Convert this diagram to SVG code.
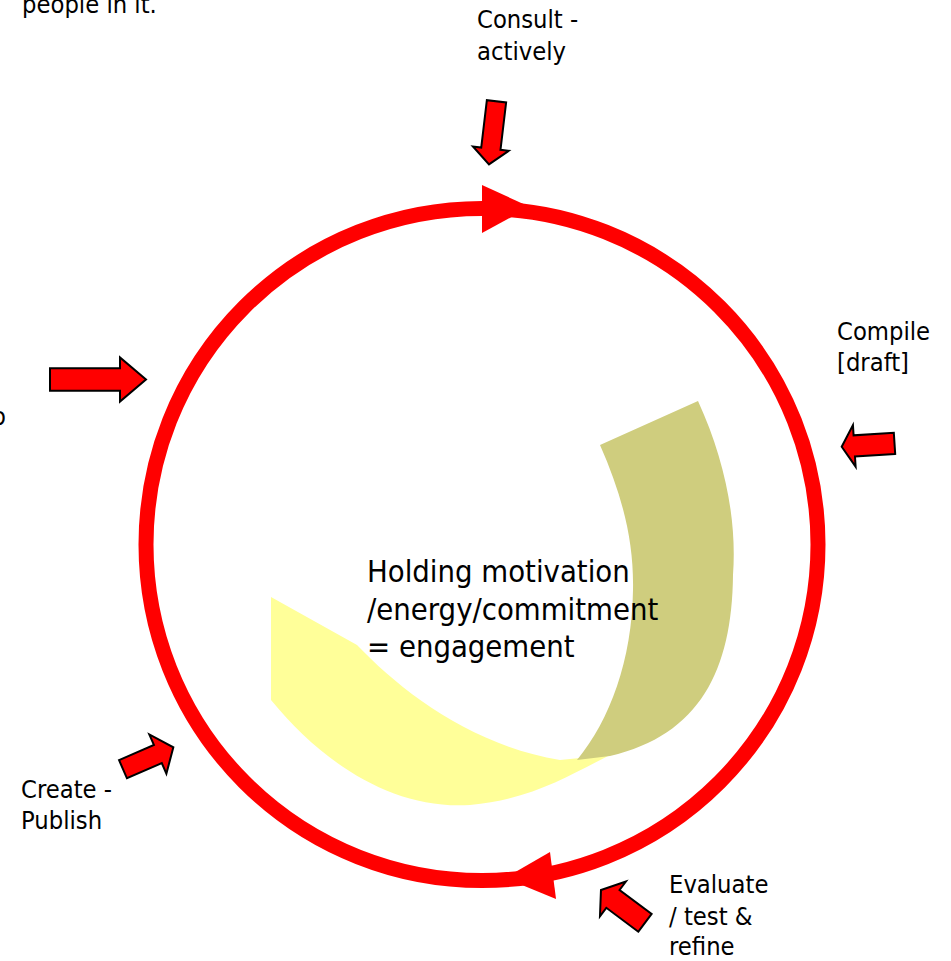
<svg xmlns="http://www.w3.org/2000/svg" width="951" height="961" viewBox="0 0 951 961">
<style>
text{font-family:"DejaVu Sans Condensed","DejaVu Sans",sans-serif;fill:#000}
.lbl{font-size:25.3px}
.ctr{font-size:30.7px}
.blk{fill:#FF0000;stroke:#000;stroke-width:2;stroke-linejoin:miter}
</style>
<rect width="951" height="961" fill="#fff"/>
<g id="ribbon">
<path d="M271,597 L357,645 C400,690 470,745 560,760 L610,755 C570,775 530,800 470,805 C390,810 320,760 271,700 Z" fill="#FFFF99"/>
<path d="M600,445 L698,401 C725,460 737,520 733,575 C732,670 700,735 610,756 L577,760 C610,720 632,660 633,590 C634,540 622,495 600,445 Z" fill="#CFCD7E"/>
</g>
<g id="center-label">
<text class="ctr" x="367" y="582">Holding motivation</text>
<text class="ctr" x="367" y="620">/energy/commitment</text>
<text class="ctr" x="367" y="657">= engagement</text>
</g>
<g id="connectors">
<circle cx="482" cy="544.5" r="336" fill="none" stroke="#FF0000" stroke-width="15"/>
<path d="M482,185 L482,233 L530,207 Z" fill="#FF0000"/>
<path d="M550,852 L556,899 L505,878 Z" fill="#FF0000"/>
</g>
<g id="node-top-left">
<text class="lbl" x="22" y="13">people in it.</text>
</g>
<g id="node-left">
<text class="lbl" x="-8" y="425">o</text>
<path class="blk" transform="translate(50,379.5)" d="M0,-11.2 L70,-11.2 L70,-22 L96,0 L70,22 L70,11.2 L0,11.2 Z"/>
</g>
<g id="node-consult">
<text class="lbl" x="477" y="28">Consult -</text>
<text class="lbl" x="477" y="60">actively</text>
<path class="blk" transform="translate(496.5,101.3) rotate(96.8)" d="M0,-9.7 L47.7,-9.7 L47.7,-18 L63.5,0 L47.7,18 L47.7,9.7 L0,9.7 Z"/>
</g>
<g id="node-compile">
<text class="lbl" x="837" y="340">Compile</text>
<text class="lbl" x="837" y="371">[draft]</text>
<path class="blk" transform="translate(894.5,443.3) rotate(176.3)" d="M0,-10.6 L40.3,-10.6 L40.3,-20.8 L52.9,0 L40.3,20.8 L40.3,10.6 L0,10.6 Z"/>
</g>
<g id="node-evaluate">
<text class="lbl" x="669" y="893">Evaluate</text>
<text class="lbl" x="669" y="925">/ test &amp;</text>
<text class="lbl" x="669" y="955">refine</text>
<path class="blk" transform="translate(645,922.8) rotate(-143.3)" d="M0,-11.1 L40,-11.1 L40,-21.7 L54.9,0 L40,21.7 L40,11.1 L0,11.1 Z"/>
</g>
<g id="node-create">
<text class="lbl" x="21" y="798">Create -</text>
<text class="lbl" x="21" y="829">Publish</text>
<path class="blk" transform="translate(123,769.2) rotate(-23.5)" d="M0,-9.9 L38,-9.9 L38,-21.4 L54.9,0 L38,21.4 L38,9.9 L0,9.9 Z"/>
</g>
</svg>
